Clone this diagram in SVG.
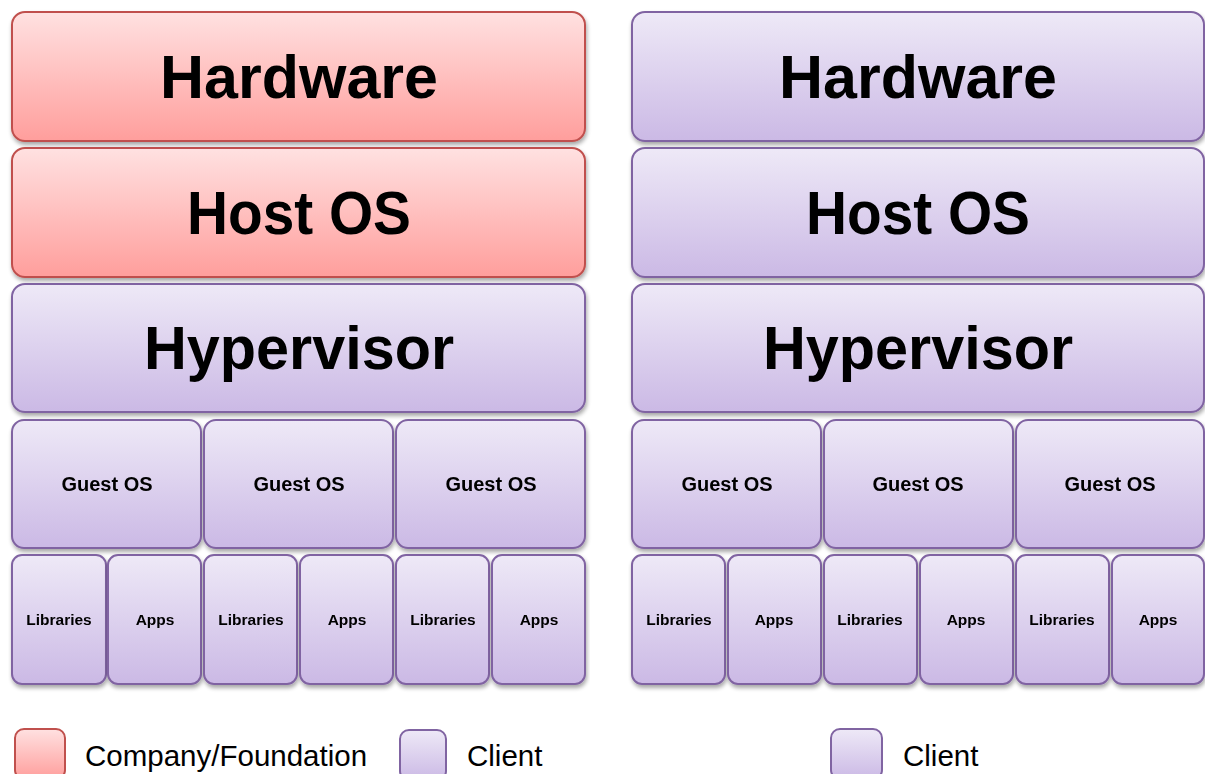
<svg xmlns="http://www.w3.org/2000/svg" width="1205" height="774" viewBox="0 0 1205 774">
<defs>
<linearGradient id="gRed" x1="0" y1="0" x2="0" y2="1">
<stop offset="0" stop-color="#FFE1E1"/><stop offset="1" stop-color="#FF9E9C"/>
</linearGradient>
<linearGradient id="gPur" x1="0" y1="0" x2="0" y2="1">
<stop offset="0" stop-color="#EEE9F7"/><stop offset="1" stop-color="#CBB9E5"/>
</linearGradient>
<filter id="sh" x="-5%" y="-5%" width="110%" height="120%">
<feGaussianBlur in="SourceAlpha" stdDeviation="2"/>
<feOffset dx="1" dy="3" result="b"/>
<feComponentTransfer><feFuncA type="linear" slope="0.35"/></feComponentTransfer>
<feMerge><feMergeNode/><feMergeNode in="SourceGraphic"/></feMerge>
</filter>
</defs>
<style>
.red{fill:url(#gRed);stroke:#C0504D;stroke-width:2}
.pur{fill:url(#gPur);stroke:#8064A2;stroke-width:2}
.big{font-family:"Liberation Sans",Arial,sans-serif;font-weight:bold;font-size:62px;fill:#000;text-anchor:middle}
.mid{font-family:"Liberation Sans",Arial,sans-serif;font-weight:bold;font-size:20px;fill:#000;text-anchor:middle}
.sm{font-family:"Liberation Sans",Arial,sans-serif;font-weight:bold;font-size:15.5px;fill:#000;text-anchor:middle}
.leg{font-family:"Liberation Sans",Arial,sans-serif;font-size:29.5px;fill:#000}
.box{filter:url(#sh)}
</style>

<g id="left-stack">
<g id="l-hardware" class="box"><rect class="red" x="12" y="12" width="573" height="129" rx="13"/><text class="big" x="299" y="98" textLength="278" lengthAdjust="spacingAndGlyphs">Hardware</text></g>
<g id="l-hostos" class="box"><rect class="red" x="12" y="148" width="573" height="129" rx="13"/><text class="big" x="299" y="234" textLength="224" lengthAdjust="spacingAndGlyphs">Host OS</text></g>
<g id="l-hypervisor" class="box"><rect class="pur" x="12" y="284" width="573" height="128" rx="13"/><text class="big" x="299" y="369" textLength="310" lengthAdjust="spacingAndGlyphs">Hypervisor</text></g>
<g id="l-guest1" class="box"><rect class="pur" x="12" y="420" width="189" height="128" rx="12"/><text class="mid" x="107" y="491">Guest OS</text></g>
<g id="l-guest2" class="box"><rect class="pur" x="204" y="420" width="189" height="128" rx="12"/><text class="mid" x="299" y="491">Guest OS</text></g>
<g id="l-guest3" class="box"><rect class="pur" x="396" y="420" width="189" height="128" rx="12"/><text class="mid" x="491" y="491">Guest OS</text></g>
<g id="l-lib1" class="box"><rect class="pur" x="12" y="555" width="94" height="129" rx="10"/><text class="sm" x="59" y="625">Libraries</text></g>
<g id="l-app1" class="box"><rect class="pur" x="108" y="555" width="93" height="129" rx="10"/><text class="sm" x="155" y="625">Apps</text></g>
<g id="l-lib2" class="box"><rect class="pur" x="204" y="555" width="93" height="129" rx="10"/><text class="sm" x="251" y="625">Libraries</text></g>
<g id="l-app2" class="box"><rect class="pur" x="300" y="555" width="93" height="129" rx="10"/><text class="sm" x="347" y="625">Apps</text></g>
<g id="l-lib3" class="box"><rect class="pur" x="396" y="555" width="93" height="129" rx="10"/><text class="sm" x="443" y="625">Libraries</text></g>
<g id="l-app3" class="box"><rect class="pur" x="492" y="555" width="93" height="129" rx="10"/><text class="sm" x="539" y="625">Apps</text></g>
</g>

<g id="right-stack">
<g id="r-hardware" class="box"><rect class="pur" x="632" y="12" width="572" height="129" rx="13"/><text class="big" x="918" y="98" textLength="278" lengthAdjust="spacingAndGlyphs">Hardware</text></g>
<g id="r-hostos" class="box"><rect class="pur" x="632" y="148" width="572" height="129" rx="13"/><text class="big" x="918" y="234" textLength="224" lengthAdjust="spacingAndGlyphs">Host OS</text></g>
<g id="r-hypervisor" class="box"><rect class="pur" x="632" y="284" width="572" height="128" rx="13"/><text class="big" x="918" y="369" textLength="310" lengthAdjust="spacingAndGlyphs">Hypervisor</text></g>
<g id="r-guest1" class="box"><rect class="pur" x="632" y="420" width="189" height="128" rx="12"/><text class="mid" x="727" y="491">Guest OS</text></g>
<g id="r-guest2" class="box"><rect class="pur" x="824" y="420" width="189" height="128" rx="12"/><text class="mid" x="918" y="491">Guest OS</text></g>
<g id="r-guest3" class="box"><rect class="pur" x="1016" y="420" width="188" height="128" rx="12"/><text class="mid" x="1110" y="491">Guest OS</text></g>
<g id="r-lib1" class="box"><rect class="pur" x="632" y="555" width="93" height="129" rx="10"/><text class="sm" x="679" y="625">Libraries</text></g>
<g id="r-app1" class="box"><rect class="pur" x="728" y="555" width="93" height="129" rx="10"/><text class="sm" x="774" y="625">Apps</text></g>
<g id="r-lib2" class="box"><rect class="pur" x="824" y="555" width="93" height="129" rx="10"/><text class="sm" x="870" y="625">Libraries</text></g>
<g id="r-app2" class="box"><rect class="pur" x="920" y="555" width="93" height="129" rx="10"/><text class="sm" x="966" y="625">Apps</text></g>
<g id="r-lib3" class="box"><rect class="pur" x="1016" y="555" width="93" height="129" rx="10"/><text class="sm" x="1062" y="625">Libraries</text></g>
<g id="r-app3" class="box"><rect class="pur" x="1112" y="555" width="92" height="129" rx="10"/><text class="sm" x="1158" y="625">Apps</text></g>
</g>

<g id="legend">
<g id="leg-company"><rect class="red" x="15" y="729" width="50" height="50" rx="9"/><text class="leg" x="85" y="766">Company/Foundation</text></g>
<g id="leg-client-left"><rect class="pur" x="400" y="730" width="46" height="50" rx="9"/><text class="leg" x="467" y="766">Client</text></g>
<g id="leg-client-right"><rect class="pur" x="831" y="729" width="51" height="50" rx="9"/><text class="leg" x="903" y="766">Client</text></g>
</g>
<g id="connectors"/>
</svg>
